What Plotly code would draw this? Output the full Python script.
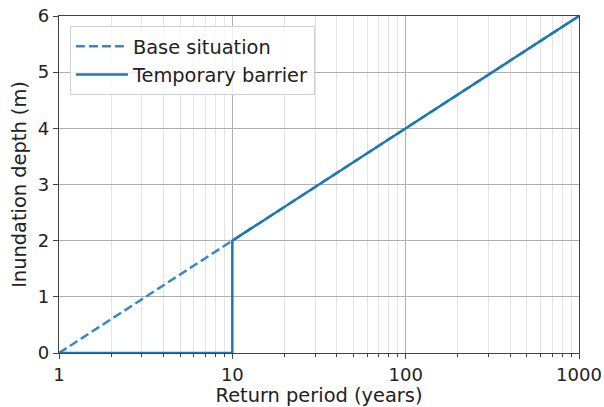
import plotly.graph_objects as go

# Data
base_x = [1, 1000]
base_y = [0, 6]
barrier_x = [1, 10, 10, 1000]
barrier_y = [0, 0, 2, 6]
x_ticks = [1, 10, 100, 1000]
x_ticklabels = ["1", "10", "100", "1000"]
y_ticks = [0, 1, 2, 3, 4, 5, 6]

fig = go.Figure()
fig.add_trace(go.Scatter(x=base_x, y=base_y, mode="lines", name="Base situation",
                         line=dict(color="#3a87c6", width=2.5, dash="9px,4px")))
fig.add_trace(go.Scatter(x=barrier_x, y=barrier_y, mode="lines", name="Temporary barrier",
                         line=dict(color="#1f77b4", width=2.5)))

font = "DejaVu Sans"
fig.update_layout(
    width=604, height=407,
    margin=dict(l=59, r=25, t=16, b=54),
    plot_bgcolor="white", paper_bgcolor="white",
    font=dict(family=font, size=18, color="#222"),
    showlegend=True,
    legend=dict(x=0.021, y=0.97, xanchor="left", yanchor="top",
                bgcolor="rgba(255,255,255,0.8)", bordercolor="#d0d0d0", borderwidth=1,
                font=dict(family=font, size=19.4, color="#222"),
                itemwidth=52, tracegroupgap=0),
)
fig.update_xaxes(
    type="log", range=[0, 3], automargin=False,
    tickvals=x_ticks, ticktext=x_ticklabels,
    showgrid=True, gridcolor="#b0b0b0", gridwidth=1,
    showline=True, linecolor="#444", linewidth=1.2, mirror=True,
    ticks="outside", ticklen=5, tickcolor="#444",
    tickfont=dict(size=18),
    title=dict(text="Return period (years)", font=dict(size=19.4), standoff=1),
    zeroline=False,
    minor=dict(showgrid=True, gridcolor="#e4e4e4", gridwidth=1,
               ticks="outside", ticklen=3, tickcolor="#444",
               tickvals=[v * d for d in [1, 10, 100] for v in range(2, 10)]),
)
fig.update_yaxes(
    range=[0, 6], tickvals=y_ticks, automargin=False,
    showgrid=True, gridcolor="#b0b0b0", gridwidth=1,
    showline=True, linecolor="#444", linewidth=1.2, mirror=True,
    ticks="outside", ticklen=5, tickcolor="#444",
    tickfont=dict(size=18),
    title=dict(text="Inundation depth (m)", font=dict(size=19.4), standoff=6),
    zeroline=False,
)
fig.write_html("out.html")
